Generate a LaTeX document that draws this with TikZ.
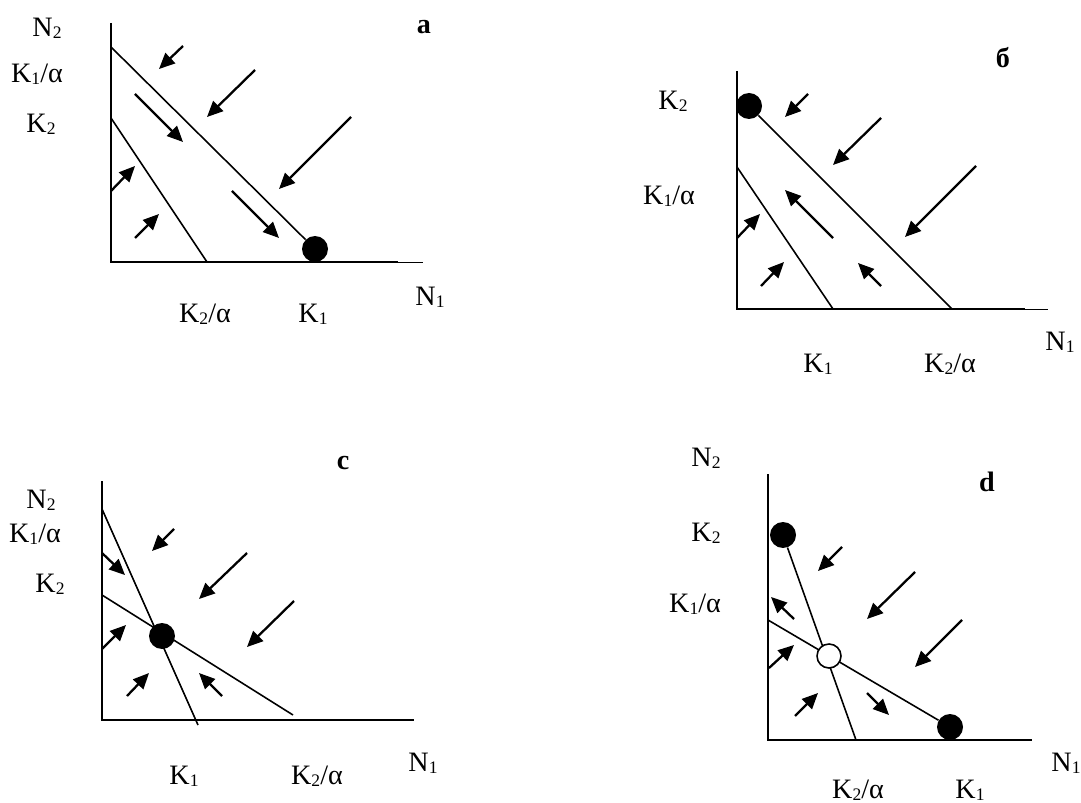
\documentclass[tikz,border=0pt]{standalone}
\usepackage{fontspec}
\setmainfont{Liberation Serif}
\usetikzlibrary{arrows.meta}
\tikzset{
  pp axis/.style={draw=black, line width=1.4pt},
  pp iso/.style={draw=black, line width=0.9pt},
  pp flow/.style={draw=black, line width=1.3pt, -{Triangle[length=9pt,width=8pt]}},
  pp stable/.style={circle, fill=black, minimum size=5.2mm, inner sep=0pt},
  pp unstable/.style={circle, draw=black, fill=white, line width=0.9pt, minimum size=4.8mm, inner sep=0pt},
  pp label/.style={font=\fontsize{16}{18}\selectfont, inner sep=0pt},
  pp tag/.style={font=\fontsize{16}{18}\selectfont\bfseries, inner sep=0pt},
}
\newcommand{\Kind}[1]{K\raisebox{-1.3pt}{\fontsize{10}{10}\selectfont #1}}
\newcommand{\Nind}[1]{N\raisebox{-1.3pt}{\fontsize{10}{10}\selectfont #1}}

\begin{document}
\begin{tikzpicture}[x=0.02cm,y=-0.02cm]
  \useasboundingbox (0,0) rectangle (1081,803);

  % panel a
  \draw[pp axis] (111,23) -- (111,262) -- (398,262);
  \draw[line width=0.5pt] (398,262) -- (423,262);
  \coordinate (aTop) at (111,47);
  \coordinate (aLow) at (111,118);
  \coordinate (aEnd) at (207,262);
  \node[pp stable] (aK1dot) at (315,249) {};
  \draw[pp iso] (aTop) -- (aK1dot);
  \draw[pp iso] (aLow) -- (aEnd);
  \foreach \xa/\ya/\xb/\yb in {183/46/159/69,255/70/207/117,351/117/279/189,135/94/183/142,232/191/279/238,111/191/135/166,135/238/159/214} {
    \draw[pp flow] (\xa,\ya) -- (\xb,\yb);
  }
  \node[pp label] (aN2) at (47,28) {\Nind{2}};
  \node[pp label] (aK1a) at (37,74) {\Kind{1}/α};
  \node[pp label] (aK2) at (41,124) {\Kind{2}};
  \node[pp label] (aK2a) at (205,314) {\Kind{2}/α};
  \node[pp label] (aK1) at (313,314) {\Kind{1}};
  \node[pp label] (aN1) at (430,297) {\Nind{1}};
  \node[pp tag] (aTag) at (424,27) {a};

  % panel b
  \draw[pp axis] (737,71) -- (737,309) -- (1025,309);
  \draw[line width=0.5pt] (1025,309) -- (1048,309);
  \coordinate (bLow) at (737,167);
  \coordinate (bEnd1) at (833,309);
  \coordinate (bEnd2) at (952,309);
  \node[pp stable] (bK2dot) at (749,106) {};
  \draw[pp iso] (bK2dot) -- (bEnd2);
  \draw[pp iso] (bLow) -- (bEnd1);
  \foreach \xa/\ya/\xb/\yb in {808/94/785/117,881/118/833/165,976/166/905/237,833/238/785/190,737/238/760/214,761/286/784/262,881/286/858/263} {
    \draw[pp flow] (\xa,\ya) -- (\xb,\yb);
  }
  \node[pp label] (bK2) at (673,101) {\Kind{2}};
  \node[pp label] (bK1a) at (669,196) {\Kind{1}/α};
  \node[pp label] (bK1) at (818,364) {\Kind{1}};
  \node[pp label] (bK2a) at (950,364) {\Kind{2}/α};
  \node[pp label] (bN1) at (1060,342) {\Nind{1}};
  \node[pp tag] (bTag) at (1003,58) {б};

  % panel c
  \draw[pp axis] (102,481) -- (102,720) -- (414,720);
  \coordinate (cTop) at (102,509);
  \coordinate (cLow) at (102,595);
  \coordinate (cEnd1) at (198,725);
  \coordinate (cEnd2) at (293,715);
  \draw[pp iso] (cTop) -- (cEnd1);
  \draw[pp iso] (cLow) -- (cEnd2);
  \node[pp stable] (cDot) at (162,636) {};
  \foreach \xa/\ya/\xb/\yb in {174/529/152/551,247/553/199/599,294/601/247/647,102/553/125/575,102/649/126/625,127/696/149/673,222/696/199/673} {
    \draw[pp flow] (\xa,\ya) -- (\xb,\yb);
  }
  \node[pp label] (cN2) at (41,500) {\Nind{2}};
  \node[pp label] (cK1a) at (35,534) {\Kind{1}/α};
  \node[pp label] (cK2) at (50,584) {\Kind{2}};
  \node[pp label] (cK1) at (184,776) {\Kind{1}};
  \node[pp label] (cK2a) at (317,776) {\Kind{2}/α};
  \node[pp label] (cN1) at (423,763) {\Nind{1}};
  \node[pp tag] (cTag) at (343,463) {c};

  % panel d
  \draw[pp axis] (768,474) -- (768,740) -- (1032,740);
  \coordinate (dLow) at (768,620);
  \coordinate (dEnd) at (856,740);
  \node[pp stable] (dK2dot) at (783,535) {};
  \node[pp stable] (dK1dot) at (950,727) {};
  \draw[pp iso] (dK2dot) -- (dEnd);
  \draw[pp iso] (dLow) -- (dK1dot);
  \node[pp unstable] (dSaddle) at (829,656) {};
  \foreach \xa/\ya/\xb/\yb in {842/547/818/571,915/572/867/619,962/620/915/667,794/619/771/597,769/668/794/645,795/716/818/693,867/693/889/715} {
    \draw[pp flow] (\xa,\ya) -- (\xb,\yb);
  }
  \node[pp label] (dN2) at (706,458) {\Nind{2}};
  \node[pp label] (dK2) at (706,533) {\Kind{2}};
  \node[pp label] (dK1a) at (695,604) {\Kind{1}/α};
  \node[pp label] (dK2a) at (858,790) {\Kind{2}/α};
  \node[pp label] (dK1) at (970,790) {\Kind{1}};
  \node[pp label] (dN1) at (1066,763) {\Nind{1}};
  \node[pp tag] (dTag) at (987,482) {d};
\end{tikzpicture}
\end{document}
